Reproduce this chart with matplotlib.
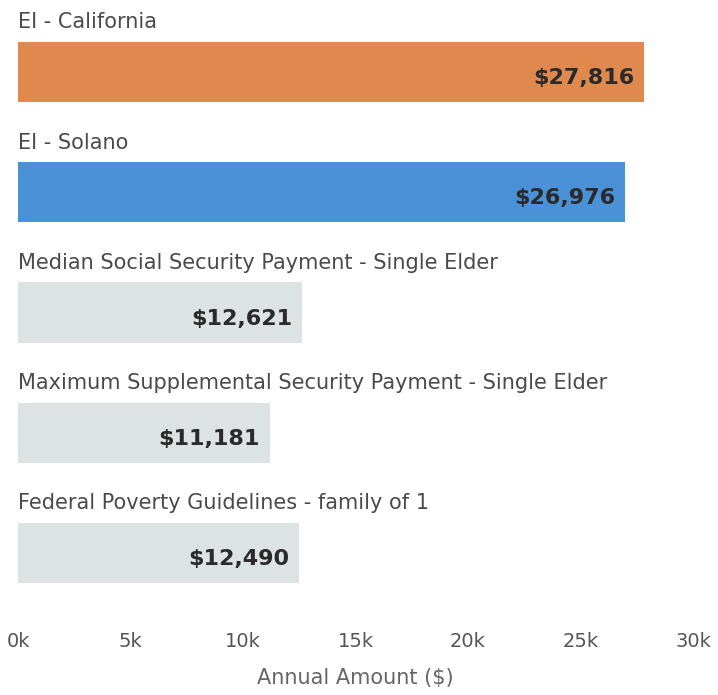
import matplotlib.pyplot as plt
import numpy as np

# data
categories = ['EI - California', 'EI - Solano',
              'Median Social Security Payment - Single Elder',
              'Maximum Supplemental Security Payment - Single Elder',
              'Federal Poverty Guidelines - family of 1']
values = [27816, 26976, 12621, 11181, 12490]
bar_colors = ['#E0894F', '#4B91D8', '#DDE3E2', '#DDE3E2', '#DDE3E2']
tick_vals = [0, 5000, 10000, 15000, 20000, 25000, 30000]
tick_labels = ['0k', '5k', '10k', '15k', '20k', '25k', '30k']

W, H = 718, 695
fig = plt.figure(figsize=(W / 100, H / 100), dpi=100)
# axes box in pixels: left, top, right, bottom
l, t, r, b = 18, 12, 693, 613
ax = fig.add_axes([l / W, 1 - b / H, (r - l) / W, (b - t) / H])

y = np.arange(len(values))
ax.barh(y, values, height=0.5, color=bar_colors, edgecolor='none')

for i, (name, v) in enumerate(zip(categories, values)):
    ax.text(0, i - 0.33, name, ha='left', va='bottom', fontsize=15,
            color='#4a4a4a')
    ax.annotate(f'${v:,}', xy=(v, i + 0.05), xytext=(-7, 0),
                textcoords='offset points', ha='right', va='center',
                fontsize=16, fontweight='bold', color='#2a2a2a')

ax.set_xlim(0, 30000)
ax.set_ylim(len(values) - 0.5, -0.5)
ax.set_yticks([])
ax.set_xticks(tick_vals)
ax.set_xticklabels(tick_labels)
ax.tick_params(axis='x', length=0, pad=14, labelsize=14, labelcolor='#555555')
ax.set_xlabel('Annual Amount ($)', fontsize=15, color='#666666', labelpad=12)
for s in ax.spines.values():
    s.set_visible(False)

fig.savefig('out.png', dpi=100)
